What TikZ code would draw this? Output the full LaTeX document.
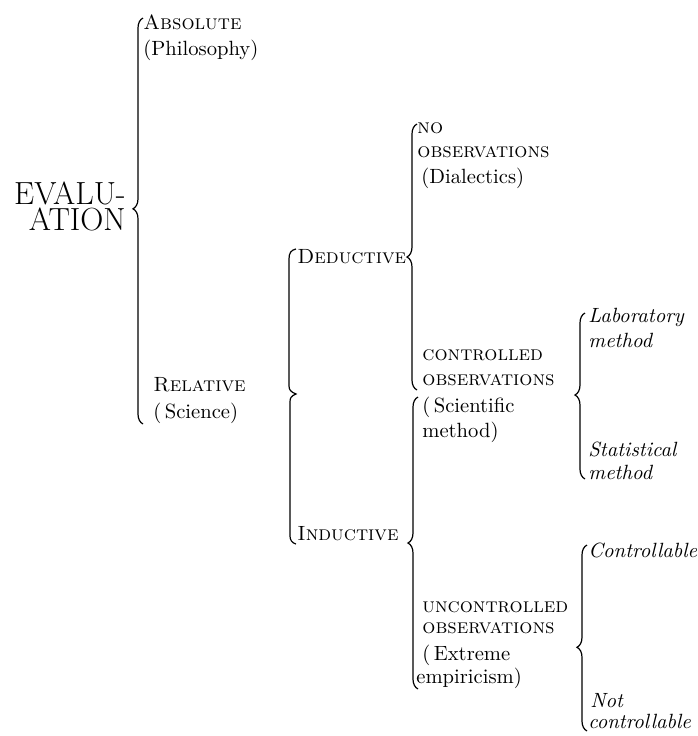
\documentclass[tikz,border=0pt]{standalone}
\usetikzlibrary{decorations.pathreplacing}
\tikzset{
  lbl/.style={inner sep=0pt, anchor=base west, align=left, font=\fontsize{10.3}{12}\selectfont},
  lblit/.style={lbl, font=\fontsize{10.3}{12}\selectfont\itshape},
  brc/.style={decorate, decoration={brace, amplitude=5pt, aspect=#1}, line width=0.6pt},
  brcline/.style={line width=0.6pt},
}
\begin{document}
\begin{tikzpicture}[x=0.5pt, y=-0.5pt]
  \useasboundingbox (0,0) rectangle (698,736);
  % labels (multi-line nodes sit on their last baseline)
  \node[lbl, anchor=base east, align=right, font=\fontsize{16}{13}\selectfont] (eval) at (126,230) {EVALU-\\ATION};
  \node[lbl] (abs) at (143,55) {\textsc{Absolute}\\[1pt](Philosophy)};
  \node[lbl] (rel) at (153,418) {\textsc{Relative}\\[1.5pt](\,Science)};
  \node[lbl] (ded) at (297,263) {\textsc{Deductive}};
  \node[lbl] (ind) at (297,540) {\textsc{Inductive}};
  \node[lbl] (noobs) at (417,183) {\textsc{no}\\\textsc{observations}\\[1pt]\hspace*{2pt}(Dialectics)};
  \node[lbl] (ctrl) at (422,437) {\textsc{controlled}\\[0.5pt]\textsc{observations}\\[1.5pt](\,Scientific\\[0.5pt]method)};
  \node[lbl] (unctrl) at (422,683) {\textsc{uncontrolled}\\[-1.5pt]\textsc{observations}\\[1.5pt](\,Extreme\\[-0.5pt]\hspace*{-3pt}empiricism)};
  \node[lblit] (lab) at (588,347) {Laboratory\\[0.5pt]method};
  \node[lblit] (stat) at (588,479) {Statistical\\[-0.5pt]method};
  \node[lblit] (cont) at (588,557) {Controllable};
  \node[lblit] (notc) at (590,728) {Not\\[-1.5pt]\hspace*{-1pt}controllable};
  % braces
  \coordinate (b1s) at (143,424); \coordinate (b1e) at (143,18);
  \coordinate (b2t) at (296,249); \coordinate (b2b) at (296,544);
  \coordinate (b3s) at (417,390); \coordinate (b3e) at (417,124);
  \coordinate (b4s) at (418,689); \coordinate (b4e) at (418,397);
  \coordinate (b5s) at (585,479); \coordinate (b5e) at (585,313);
  \coordinate (b6s) at (587,731); \coordinate (b6e) at (587,545);
  \draw[brc=0.53] (b1s) -- (b1e);
  \draw[brcline] (b2t) .. controls (291,250) and (289,253) .. (289,259) -- (289,386)
    .. controls (289,390) and (291,392) .. (296,394) .. controls (291,396) and (290,398) .. (290,402)
    -- (290,536) .. controls (290,540) and (292,543) .. (b2b);
  \draw[brc=0.5] (b3s) -- (b3e);
  \draw[brc=0.5] (b4s) -- (b4e);
  \draw[brc=0.506] (b5s) -- (b5e);
  \draw[brc=0.45] (b6s) -- (b6e);
\end{tikzpicture}
\end{document}
